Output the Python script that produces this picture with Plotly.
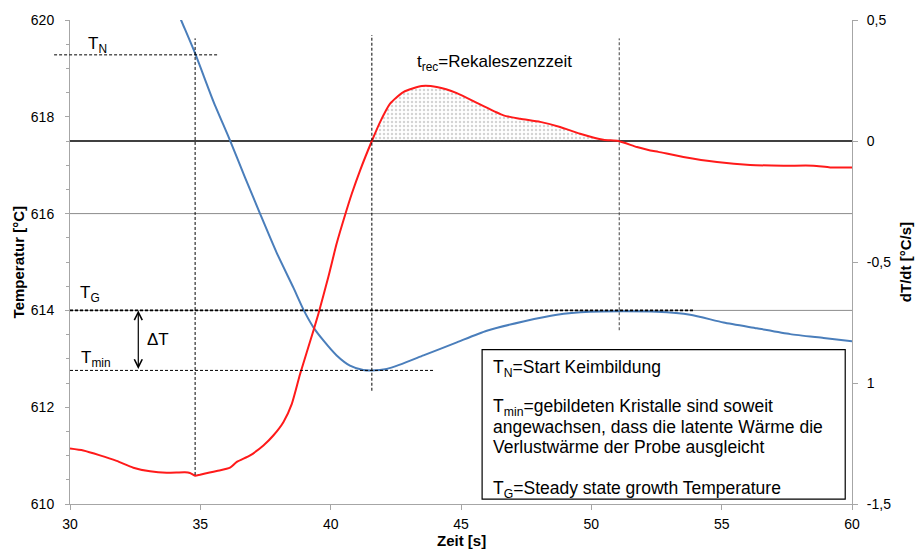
import plotly.graph_objects as go

# ---------------- data ----------------
blue_t = [34.0, 34.26, 34.80, 35.50, 36.11, 36.72, 37.29, 37.93, 38.57, 38.98, 39.34, 39.72,
          40.23, 40.74, 41.25, 41.58, 42.15, 42.66, 43.56, 44.84, 45.99, 47.39, 48.68, 49.95,
          51.11, 52.51, 53.79, 55.07, 56.35, 57.63, 58.91, 60.0]
blue_T = [620.34, 620.0, 619.31, 618.32, 617.55, 616.74, 616.0, 615.19, 614.47, 613.99, 613.65, 613.38,
          613.07, 612.86, 612.77, 612.76, 612.79, 612.88, 613.07, 613.34, 613.58, 613.77, 613.91, 613.97,
          613.98, 613.97, 613.91, 613.75, 613.63, 613.51, 613.43, 613.36]

red_t = [30.0, 30.51, 31.15, 31.79, 32.43, 33.07, 33.71, 34.41, 34.60, 34.80, 34.99, 35.63, 36.14,
         36.40, 36.91, 37.42, 37.80, 38.19, 38.51, 38.83, 39.34, 39.53, 39.91, 40.23, 40.55, 40.81,
         41.13, 41.58, 41.90, 42.28, 42.79, 43.50, 44.07, 44.84, 45.73, 46.63, 47.27, 48.04, 48.80,
         49.57, 50.46, 51.04, 51.75, 52.26, 52.57, 53.53, 54.82, 56.09, 57.37, 58.52, 59.16, 60.0]
red_v = [-1.271, -1.279, -1.299, -1.322, -1.350, -1.365, -1.371, -1.369, -1.372, -1.383, -1.379, -1.364,
         -1.350, -1.326, -1.299, -1.258, -1.217, -1.161, -1.086, -0.962, -0.783, -0.714, -0.562, -0.424,
         -0.307, -0.218, -0.121, 0.0, 0.079, 0.154, 0.202, 0.227, 0.223, 0.198, 0.151, 0.106, 0.092,
         0.079, 0.058, 0.030, 0.005, 0.0, -0.025, -0.039, -0.045, -0.066, -0.087, -0.099, -0.102,
         -0.102, -0.109, -0.109]

x_ticks = [30, 35, 40, 45, 50, 55, 60]
y_ticks = [610, 612, 614, 616, 618, 620]
y2_ticks = [-1.5, -1.0, -0.5, 0.0, 0.5]
y2_ticktext = ["-1,5", "1", "-0,5", "0", "0,5"]

box_lines = [
    "T<sub>N</sub>=Start Keimbildung",
    "T<sub>min</sub>=gebildeten Kristalle sind soweit",
    "angewachsen, dass die latente Wärme die",
    "Verlustwärme der Probe ausgleicht",
    "T<sub>G</sub>=Steady state growth Temperature",
]

t_N, T_N = 34.8, 619.28
t_min, T_min = 41.58, 612.76
t_G, T_G = 51.07, 614.0
t_rec_end = 51.04

X0, X1 = 30, 60
Y0, Y1 = 610, 620

FONT = "Liberation Sans, Arial, sans-serif"
AX = "#a6a6a6"

def px(t):
    return (t - X0) / (X1 - X0)

def py(T):
    return (T - Y0) / (Y1 - Y0)

fig = go.Figure()

# dotted recalescence area
fill_t = [t for t in red_t if t_min <= t <= t_rec_end]
fill_v = [v for t, v in zip(red_t, red_v) if t_min <= t <= t_rec_end]
fig.add_trace(go.Scatter(x=fill_t, y=fill_v, yaxis="y2", mode="lines",
                         line=dict(width=0, color="rgba(0,0,0,0)", shape="spline", smoothing=0.6),
                         fill="tozeroy", fillcolor="rgba(0,0,0,0)",
                         fillpattern=dict(shape=".", fgcolor="#a8a8a8", bgcolor="rgba(255,255,255,0)",
                                          size=4, solidity=0.3),
                         hoverinfo="skip", showlegend=False))

fig.add_trace(go.Scatter(x=blue_t, y=blue_T, mode="lines",
                         line=dict(color="#4a7ebb", width=2, shape="spline", smoothing=0.6),
                         showlegend=False, name="T"))
fig.add_trace(go.Scatter(x=red_t, y=red_v, yaxis="y2", mode="lines",
                         line=dict(color="#ff1a1a", width=2, shape="spline", smoothing=0.6),
                         showlegend=False, name="dT/dt"))

shapes = []
# gridlines
for g in [616, 614]:
    shapes.append(dict(type="line", xref="x", yref="y", x0=X0, x1=X1, y0=g, y1=g,
                       line=dict(color="#8c8c8c", width=1), layer="below"))
# zero line of dT/dt
shapes.append(dict(type="line", xref="x", yref="y2", x0=X0, x1=X1, y0=0, y1=0,
                   line=dict(color="black", width=1.3), layer="below"))

dash = "3px,2px"
# vertical dashed lines
shapes.append(dict(type="line", xref="x", yref="y", x0=t_N, x1=t_N, y0=610.6, y1=619.62,
                   line=dict(color="black", width=1, dash=dash)))
shapes.append(dict(type="line", xref="x", yref="y", x0=t_min, x1=t_min, y0=612.34, y1=619.69,
                   line=dict(color="black", width=1, dash=dash)))
shapes.append(dict(type="line", xref="x", yref="y", x0=t_G, x1=t_G, y0=613.59, y1=619.62,
                   line=dict(color="#404040", width=1, dash=dash)))
# horizontal dashed lines
shapes.append(dict(type="line", xref="paper", yref="paper", x0=px(29.39), x1=px(35.72),
                   y0=py(T_N), y1=py(T_N), line=dict(color="black", width=1, dash=dash)))
shapes.append(dict(type="line", xref="x", yref="y", x0=X0, x1=53.94, y0=T_G, y1=T_G,
                   line=dict(color="black", width=1.6, dash=dash)))
shapes.append(dict(type="line", xref="x", yref="y", x0=X0, x1=43.93, y0=T_min, y1=T_min,
                   line=dict(color="black", width=1, dash=dash)))
# text box
shapes.append(dict(type="rect", xref="x", yref="y", x0=45.81, x1=59.74, y0=610.10, y1=613.19,
                   line=dict(color="black", width=1.2), fillcolor="white", layer="above"))

ann = []
def txt(x, y, s, size=17, xanchor="center", yanchor="middle", xref="x", yref="y", **kw):
    ann.append(dict(x=x, y=y, xref=xref, yref=yref, text=s, showarrow=False,
                    font=dict(family=FONT, size=size, color="black"),
                    xanchor=xanchor, yanchor=yanchor, **kw))

txt(31.04, 619.48, "T<sub>N</sub>")
txt(30.75, 614.33, "T<sub>G</sub>")
txt(31.0, 613.0, "T<sub>min</sub>")
txt(33.36, 613.40, "ΔT")
txt(46.29, 619.12, "t<sub>rec</sub>=Rekaleszenzzeit")

bx = 46.155
box_y = [612.80, 612.0, 611.59, 611.18, 610.30]
for s, yy in zip(box_lines, box_y):
    txt(bx, yy, s, size=17.5, xanchor="left")

# delta T arrow
ann.append(dict(x=32.62, y=T_G, ax=32.62, ay=T_min, xref="x", yref="y", axref="x", ayref="y",
                text="", showarrow=True, arrowhead=5, startarrowhead=5, arrowside="end+start",
                arrowsize=1.3, startarrowsize=1.3, arrowwidth=1.2, arrowcolor="black"))

# axis titles
txt(0.5, -0.076, "<b>Zeit [s]</b>", size=15, xref="paper", yref="paper")
txt(-0.066, 0.5, "<b>Temperatur [°C]</b>", size=15, xref="paper", yref="paper", textangle=-90)
txt(1.068, 0.5, "<b>dT/dt [°C/s]</b>", size=15, xref="paper", yref="paper", textangle=-90)

fig.update_layout(
    width=916, height=554,
    margin=dict(l=70, r=64, t=18, b=50),
    plot_bgcolor="white", paper_bgcolor="white",
    font=dict(family=FONT, size=14, color="black"),
    showlegend=False,
    shapes=shapes, annotations=ann,
    xaxis=dict(range=[X0, X1], tickmode="array", tickvals=x_ticks, ticks="outside", ticklen=5,
               tickcolor=AX, showline=True, linecolor=AX, linewidth=1, showgrid=False,
               zeroline=False, tickfont=dict(size=14), ticklabelstandoff=2),
    yaxis=dict(range=[Y0, Y1], tickmode="array", tickvals=y_ticks, ticks="outside", ticklen=4,
               tickcolor=AX, showline=True, linecolor=AX, linewidth=1, showgrid=False,
               zeroline=False, tickfont=dict(size=14), ticklabelstandoff=8,
               minor=dict(tickmode="linear", tick0=610, dtick=0.5, ticks="outside", ticklen=3,
                          tickcolor=AX, showgrid=False)),
    yaxis2=dict(range=[-1.5, 0.5], overlaying="y", side="right", tickmode="array",
                tickvals=y2_ticks, ticktext=y2_ticktext, ticks="outside", ticklen=5,
                tickcolor=AX, showline=True, linecolor=AX, linewidth=1, showgrid=False,
                zeroline=False, tickfont=dict(size=14), ticklabelstandoff=6),
)

fig.write_html("out.html", config={"displayModeBar": False},
               post_script="document.body.style.margin='0px';document.body.style.padding='0px';")
